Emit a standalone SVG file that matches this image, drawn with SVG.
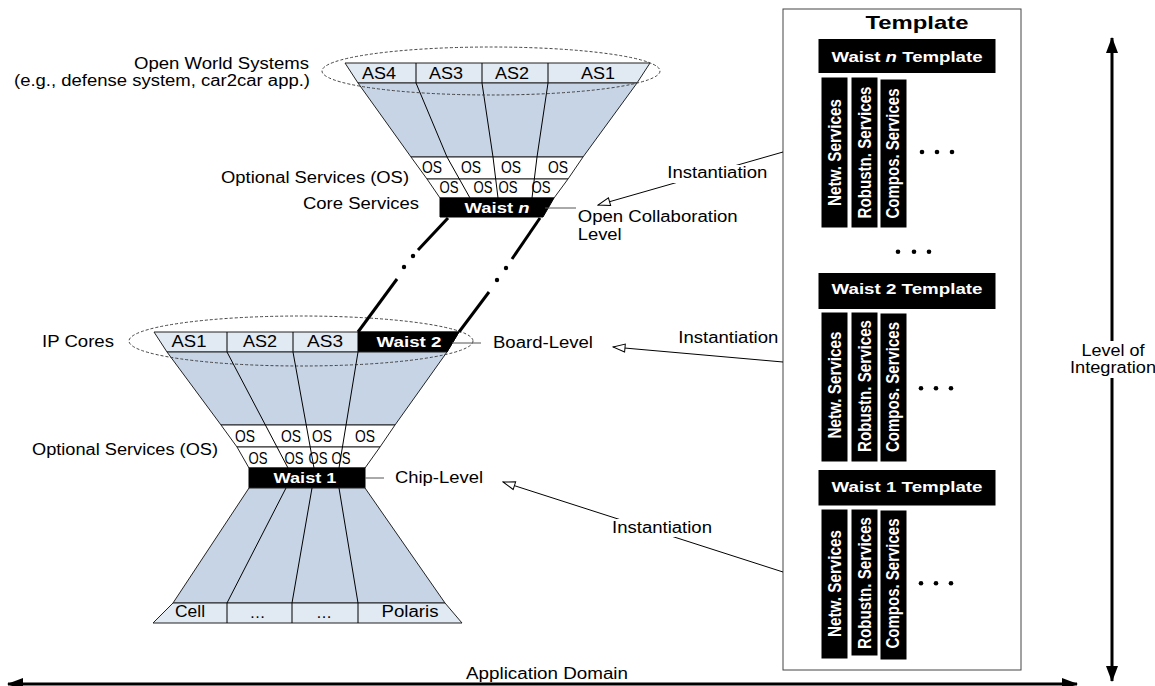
<svg xmlns="http://www.w3.org/2000/svg" width="1155" height="686" viewBox="0 0 1155 686">
<style>
text { font-family: "Liberation Sans", Arial, sans-serif; fill: #000; }
.lbl { font-size: 16px; }
.cell { font-size: 16px; text-anchor: middle; }
.os { font-size: 17px; text-anchor: middle; }
.wt { fill: #fff; font-weight: bold; text-anchor: middle; }
.bar { fill: #fff; font-weight: bold; font-size: 19px; text-anchor: middle; }
.fun { fill: #c6d4e5; stroke: #222; stroke-width: 1; }
.asr { fill: #e1e9f3; stroke: #222; stroke-width: 1; }
.osr { fill: #fff; stroke: #222; stroke-width: 1; }
.blk { fill: #000; stroke: #000; stroke-width: 1; }
.dv { fill: none; stroke: #000; stroke-width: 1; }
.ell { fill: none; stroke: #444; stroke-width: 1; stroke-dasharray: 3 2; }
.thk { stroke: #000; stroke-width: 3; fill: none; }
.lvl { stroke: #555; stroke-width: 1; }
.inst { stroke: #000; stroke-width: 1; fill: none; marker-end: url(#open); }
.big { stroke: #000; stroke-width: 3; fill: none; marker-start: url(#solid); marker-end: url(#solid); }
</style>
<defs>
<marker id="open" viewBox="0 0 14 10" refX="13" refY="5" markerWidth="14" markerHeight="10" markerUnits="userSpaceOnUse" orient="auto">
<path d="M1,1 L13,5 L1,9 Z" fill="#fff" stroke="#000" stroke-width="1"/>
</marker>
<marker id="solid" viewBox="0 0 16 12" refX="15" refY="6" markerWidth="16" markerHeight="12" markerUnits="userSpaceOnUse" orient="auto-start-reverse">
<path d="M0,0 L16,6 L0,12 Z" fill="#000"/>
</marker>
</defs>
<rect width="1155" height="686" fill="#fff"/>

<!-- Top funnel: Waist n -->
<g id="waist-n-stack">
<polygon class="asr" points="345,63 650,63 637,83 358,83"/>
<polygon class="fun" points="358,83 637,83 583,157 411,157"/>
<polygon class="osr" points="411,157 583,157 568,179 427,179"/>
<polygon class="osr" points="427,179 568,179 554,198 440,198"/>
<polygon class="blk" points="440,198 554,198 543,217 440,217"/>
<line class="dv" x1="416" y1="63" x2="416" y2="83"/>
<line class="dv" x1="482" y1="63" x2="482" y2="83"/>
<line class="dv" x1="548" y1="63" x2="548" y2="83"/>
<polyline class="dv" points="416,83 447,157 470,198"/>
<polyline class="dv" points="482,83 493,157 498,198"/>
<polyline class="dv" points="548,83 537,157 532,198"/>
<text class="cell" x="379" y="78.5" textLength="34" lengthAdjust="spacingAndGlyphs">AS4</text>
<text class="cell" x="446" y="78.5" textLength="34" lengthAdjust="spacingAndGlyphs">AS3</text>
<text class="cell" x="512" y="78.5" textLength="34" lengthAdjust="spacingAndGlyphs">AS2</text>
<text class="cell" x="598" y="78.5" textLength="34" lengthAdjust="spacingAndGlyphs">AS1</text>
<text class="os" x="432" y="173" textLength="20" lengthAdjust="spacingAndGlyphs">OS</text>
<text class="os" x="471" y="173" textLength="20" lengthAdjust="spacingAndGlyphs">OS</text>
<text class="os" x="511" y="173" textLength="20" lengthAdjust="spacingAndGlyphs">OS</text>
<text class="os" x="558" y="173" textLength="20" lengthAdjust="spacingAndGlyphs">OS</text>
<text class="os" x="449" y="192.5" textLength="19" lengthAdjust="spacingAndGlyphs">OS</text>
<text class="os" x="483" y="192.5" textLength="19" lengthAdjust="spacingAndGlyphs">OS</text>
<text class="os" x="508" y="192.5" textLength="19" lengthAdjust="spacingAndGlyphs">OS</text>
<text class="os" x="541" y="192.5" textLength="19" lengthAdjust="spacingAndGlyphs">OS</text>
<text class="wt" x="497" y="212.5" font-size="15" textLength="65" lengthAdjust="spacingAndGlyphs">Waist <tspan font-style="italic">n</tspan></text>
<ellipse class="ell" cx="491" cy="71" rx="169" ry="24"/>
</g>

<!-- Bottom funnel: Waist 2 / Waist 1 -->
<g id="waist-2-stack">
<polygon class="asr" points="154,332 459,332 447,352 167,352"/>
<polygon class="blk" points="358,332 459,332 447,352 358,352"/>
<line class="dv" x1="227" y1="332" x2="227" y2="352"/>
<line class="dv" x1="293" y1="332" x2="293" y2="352"/>
<polygon class="fun" points="167,352 447,352 395,425 221,425"/>
<text class="cell" x="189" y="347" textLength="35" lengthAdjust="spacingAndGlyphs">AS1</text>
<text class="cell" x="260" y="347" textLength="34" lengthAdjust="spacingAndGlyphs">AS2</text>
<text class="cell" x="325" y="347" textLength="36" lengthAdjust="spacingAndGlyphs">AS3</text>
<text class="wt" x="409" y="347" font-size="15" textLength="65" lengthAdjust="spacingAndGlyphs">Waist 2</text>
<ellipse class="ell" cx="301" cy="341" rx="172" ry="25"/>
</g>

<g id="waist-1-stack">
<polygon class="osr" points="221,425 395,425 380,447 237,447"/>
<polygon class="osr" points="237,447 380,447 365,468 249,468"/>
<rect class="blk" x="249" y="468" width="116" height="20"/>
<polygon class="fun" points="249,488 365,488 445,603 173,603"/>
<polygon class="asr" points="173,603 445,603 462,623 153,623"/>
<line class="dv" x1="227" y1="352" x2="288" y2="468"/>
<line class="dv" x1="293" y1="352" x2="314" y2="468"/>
<line class="dv" x1="358" y1="352" x2="339" y2="468"/>
<polyline class="dv" points="286,488 227,603 227,623"/>
<polyline class="dv" points="312,488 292,603 292,623"/>
<polyline class="dv" points="339,488 358,603 358,623"/>
<text class="os" x="245" y="442" textLength="20" lengthAdjust="spacingAndGlyphs">OS</text>
<text class="os" x="291" y="442" textLength="20" lengthAdjust="spacingAndGlyphs">OS</text>
<text class="os" x="322" y="442" textLength="20" lengthAdjust="spacingAndGlyphs">OS</text>
<text class="os" x="365" y="442" textLength="20" lengthAdjust="spacingAndGlyphs">OS</text>
<text class="os" x="258" y="463.5" textLength="19" lengthAdjust="spacingAndGlyphs">OS</text>
<text class="os" x="294" y="463.5" textLength="19" lengthAdjust="spacingAndGlyphs">OS</text>
<text class="os" x="318" y="463.5" textLength="19" lengthAdjust="spacingAndGlyphs">OS</text>
<text class="os" x="341" y="463.5" textLength="19" lengthAdjust="spacingAndGlyphs">OS</text>
<text class="wt" x="305" y="482.5" font-size="15" textLength="63" lengthAdjust="spacingAndGlyphs">Waist 1</text>
<text class="cell" x="190" y="617" textLength="30" lengthAdjust="spacingAndGlyphs">Cell</text>
<text class="cell" x="257.5" y="618" font-size="13" fill="#444">…</text>
<text class="cell" x="324" y="618" font-size="13" fill="#444">…</text>
<text class="cell" x="410" y="617" textLength="57" lengthAdjust="spacingAndGlyphs">Polaris</text>
</g>

<!-- Side labels -->
<g id="labels">
<text class="lbl" x="309" y="69" text-anchor="end" textLength="175" lengthAdjust="spacingAndGlyphs">Open World Systems</text>
<text class="lbl" x="310" y="86" text-anchor="end" textLength="296" lengthAdjust="spacingAndGlyphs">(e.g., defense system, car2car app.)</text>
<text class="lbl" x="409" y="183" text-anchor="end" textLength="188" lengthAdjust="spacingAndGlyphs">Optional Services (OS)</text>
<text class="lbl" x="303" y="209" textLength="116" lengthAdjust="spacingAndGlyphs">Core Services</text>
<text class="lbl" x="42" y="347" textLength="72" lengthAdjust="spacingAndGlyphs">IP Cores</text>
<text class="lbl" x="218" y="455" text-anchor="end" textLength="186" lengthAdjust="spacingAndGlyphs">Optional Services (OS)</text>
<text class="lbl" x="577.7" y="221.7" textLength="160" lengthAdjust="spacingAndGlyphs">Open Collaboration</text>
<text class="lbl" x="577.7" y="240" textLength="44" lengthAdjust="spacingAndGlyphs">Level</text>
<text class="lbl" x="493" y="348" textLength="100" lengthAdjust="spacingAndGlyphs">Board-Level</text>
<text class="lbl" x="395" y="483" textLength="88" lengthAdjust="spacingAndGlyphs">Chip-Level</text>
</g>

<!-- Template -->
<g id="template">
<rect x="783" y="9" width="238" height="661" fill="#fff" stroke="#444" stroke-width="1"/>
<text x="917" y="28.5" font-size="19" font-weight="bold" text-anchor="middle" textLength="103" lengthAdjust="spacingAndGlyphs">Template</text>
</g>

<g id="waist-n-template">
<rect class="blk" x="819" y="39.5" width="176" height="33"/>
<text class="wt" x="907" y="61.5" font-size="15" textLength="151" lengthAdjust="spacingAndGlyphs">Waist <tspan font-style="italic">n</tspan> Template</text>
<rect class="blk" x="822" y="78" width="25" height="149"/>
<rect class="blk" x="852" y="78" width="25" height="149"/>
<rect class="blk" x="881" y="80" width="25" height="147"/>
<text class="bar" transform="translate(841,152.5) rotate(-90)" textLength="107" lengthAdjust="spacingAndGlyphs">Netw. Services</text>
<text class="bar" transform="translate(871,152.5) rotate(-90)" textLength="132" lengthAdjust="spacingAndGlyphs">Robustn. Services</text>
<text class="bar" transform="translate(899,153.5) rotate(-90)" textLength="130" lengthAdjust="spacingAndGlyphs">Compos. Services</text>
<circle cx="922" cy="152" r="2.3"/><circle cx="937" cy="152" r="2.3"/><circle cx="952" cy="152" r="2.3"/>
</g>

<g id="template-gap">
<circle cx="898" cy="251.7" r="2.3"/><circle cx="914" cy="251.7" r="2.3"/><circle cx="929" cy="251.7" r="2.3"/>
</g>

<g id="waist-2-template">
<rect class="blk" x="819" y="273.5" width="176" height="35"/>
<text class="wt" x="907" y="294" font-size="15" textLength="151" lengthAdjust="spacingAndGlyphs">Waist 2 Template</text>
<rect class="blk" x="822" y="313" width="25" height="148"/>
<rect class="blk" x="852" y="313" width="25" height="148"/>
<rect class="blk" x="881" y="314" width="25" height="147"/>
<text class="bar" transform="translate(841,385) rotate(-90)" textLength="107" lengthAdjust="spacingAndGlyphs">Netw. Services</text>
<text class="bar" transform="translate(871,386) rotate(-90)" textLength="132" lengthAdjust="spacingAndGlyphs">Robustn. Services</text>
<text class="bar" transform="translate(899,387) rotate(-90)" textLength="130" lengthAdjust="spacingAndGlyphs">Compos. Services</text>
<circle cx="921" cy="388.3" r="2.3"/><circle cx="936" cy="388.3" r="2.3"/><circle cx="951" cy="388.3" r="2.3"/>
</g>

<g id="waist-1-template">
<rect class="blk" x="819" y="470.5" width="176" height="34.5"/>
<text class="wt" x="907" y="491.5" font-size="15" textLength="151" lengthAdjust="spacingAndGlyphs">Waist 1 Template</text>
<rect class="blk" x="822" y="510" width="25" height="148"/>
<rect class="blk" x="852" y="510" width="25" height="145"/>
<rect class="blk" x="881" y="511" width="25" height="148"/>
<text class="bar" transform="translate(841,583.5) rotate(-90)" textLength="107" lengthAdjust="spacingAndGlyphs">Netw. Services</text>
<text class="bar" transform="translate(871,583) rotate(-90)" textLength="132" lengthAdjust="spacingAndGlyphs">Robustn. Services</text>
<text class="bar" transform="translate(899,583.5) rotate(-90)" textLength="130" lengthAdjust="spacingAndGlyphs">Compos. Services</text>
<circle cx="921" cy="583.3" r="2.3"/><circle cx="936" cy="583.3" r="2.3"/><circle cx="951" cy="583.3" r="2.3"/>
</g>

<!-- Connectors -->
<g id="connectors">
<line class="thk" x1="448" y1="218" x2="418" y2="250"/>
<circle cx="413" cy="256" r="2.2"/>
<circle cx="404" cy="267" r="2.2"/>
<line class="thk" x1="397" y1="279" x2="358" y2="332"/>
<line class="thk" x1="540" y1="218" x2="512" y2="259"/>
<circle cx="506" cy="268" r="2.2"/>
<circle cx="497" cy="280" r="2.2"/>
<line class="thk" x1="489" y1="292" x2="459" y2="332"/>
<line class="lvl" x1="545" y1="208" x2="576" y2="208"/>
<line class="lvl" x1="452" y1="343" x2="481" y2="343"/>
<line class="lvl" x1="365" y1="478" x2="384" y2="478"/>
<line class="inst" x1="783" y1="152" x2="598" y2="205"/>
<rect x="666" y="165" width="102" height="18" fill="#fff"/>
<text class="lbl" x="667.3" y="178.3" textLength="100" lengthAdjust="spacingAndGlyphs">Instantiation</text>
<line class="inst" x1="783" y1="362" x2="613" y2="347"/>
<text class="lbl" x="678.3" y="343" textLength="100" lengthAdjust="spacingAndGlyphs">Instantiation</text>
<line class="inst" x1="783" y1="572" x2="503" y2="482"/>
<rect x="610" y="519" width="104" height="18" fill="#fff"/>
<text class="lbl" x="612" y="533" textLength="100" lengthAdjust="spacingAndGlyphs">Instantiation</text>
<line class="big" x1="1112" y1="38" x2="1112" y2="681"/>
<rect x="1072" y="341" width="83" height="37" fill="#fff"/>
<text class="lbl" x="1113" y="356" text-anchor="middle" font-size="15" textLength="63" lengthAdjust="spacingAndGlyphs">Level of</text>
<text class="lbl" x="1113" y="373" text-anchor="middle" font-size="15" textLength="86" lengthAdjust="spacingAndGlyphs">Integration</text>
<line class="big" x1="8" y1="684" x2="1077" y2="684"/>
<text class="lbl" x="466" y="679" textLength="162" lengthAdjust="spacingAndGlyphs">Application Domain</text>
</g>
</svg>
